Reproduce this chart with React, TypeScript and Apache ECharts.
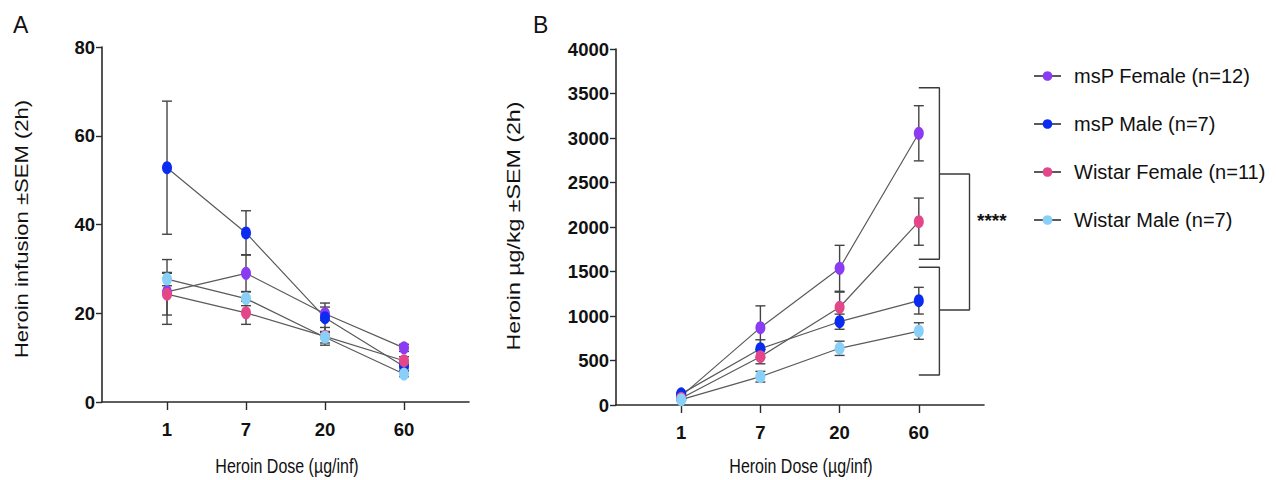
import React, { useEffect, useRef } from "react";
import * as echarts from "echarts";

// ---------- data ----------
const doseLabels = ["1", "7", "20", "60"];
const doseIdx = [1, 2, 3, 4];
const seriesNames = [
  "msP Female (n=12)",
  "msP Male (n=7)",
  "Wistar Female (n=11)",
  "Wistar Male (n=7)",
];
const seriesColors = ["#8b3cf2", "#0a2cf0", "#e4468a", "#88d0f7"];

// Panel A: Heroin infusions (2h)
const infMspFemale = [24.8, 29.0, 19.9, 12.2];
const infMspFemaleSem = [7.3, 4.2, 1.5, 0.8];
const infMspMale = [52.8, 38.1, 19.0, 8.0];
const infMspMaleSem = [15.0, 5.0, 3.3, 0.9];
const infWistarFemale = [24.3, 20.1, 14.8, 9.3];
const infWistarFemaleSem = [4.7, 2.6, 2.0, 0.9];
const infWistarMale = [27.7, 23.3, 14.6, 6.3];
const infWistarMaleSem = [1.5, 1.6, 1.3, 0.6];

// Panel B: Heroin µg/kg (2h)
const mgMspFemale = [100, 869, 1536, 3053];
const mgMspFemaleSem = [20, 245, 258, 310];
const mgMspMale = [125, 633, 936, 1172];
const mgMspMaleSem = [15, 100, 85, 150];
const mgWistarFemale = [75, 543, 1098, 2060];
const mgWistarFemaleSem = [15, 80, 170, 265];
const mgWistarMale = [60, 318, 637, 831];
const mgWistarMaleSem = [10, 60, 80, 93];

// significance brackets (panel B, data coordinates)
const bracketFemales = [[4.0, 3565], [4.26, 3565], [4.26, 1637], [4.0, 1637]];
const bracketMales = [[4.0, 1547], [4.26, 1547], [4.26, 337], [4.0, 337]];
const bracketOuter = [[4.26, 2596], [4.64, 2596], [4.64, 1067], [4.26, 1067]];
const sigLabel = "****";

const yTicksA = [0, 20, 40, 60, 80];
const yTicksB = [0, 500, 1000, 1500, 2000, 2500, 3000, 3500, 4000];

const panelA = [
  [infMspFemale, infMspFemaleSem],
  [infMspMale, infMspMaleSem],
  [infWistarFemale, infWistarFemaleSem],
  [infWistarMale, infWistarMaleSem],
];
const panelB = [
  [mgMspFemale, mgMspFemaleSem],
  [mgMspMale, mgMspMaleSem],
  [mgWistarFemale, mgWistarFemaleSem],
  [mgWistarMale, mgWistarMaleSem],
];

// ---------- styles ----------
const AXIS_COLOR = "#2a2a2a";
const LINE_COLOR = "#5a5a5a";
const ERR_COLOR = "#444";
const SANS = '"Liberation Sans", Arial, sans-serif';

function errorRender(params: any, api: any) {
  const x = api.value(0);
  const y = api.value(1);
  const e = api.value(2);
  const top = api.coord([x, y + e]);
  const bot = api.coord([x, y - e]);
  const half = 5;
  const style = { stroke: ERR_COLOR, lineWidth: 1.4 };
  return {
    type: "group",
    children: [
      { type: "line", shape: { x1: top[0], y1: top[1], x2: bot[0], y2: bot[1] }, style },
      { type: "line", shape: { x1: top[0] - half, y1: top[1], x2: top[0] + half, y2: top[1] }, style },
      { type: "line", shape: { x1: bot[0] - half, y1: bot[1], x2: bot[0] + half, y2: bot[1] }, style },
    ],
  };
}

function buildPanel(panel: number[][][], axisIndex: number) {
  const out: any[] = [];
  panel.forEach(([vals, sems], i) => {
    out.push({
      type: "custom",
      name: seriesNames[i] + " err" + axisIndex,
      xAxisIndex: axisIndex,
      yAxisIndex: axisIndex,
      renderItem: errorRender,
      data: vals.map((v, k) => [doseIdx[k], v, sems[k]]),
      z: 2,
      silent: true,
    });
  });
  panel.forEach(([vals], i) => {
    out.push({
      type: "line",
      name: seriesNames[i],
      xAxisIndex: axisIndex,
      yAxisIndex: axisIndex,
      data: vals.map((v, k) => [doseIdx[k], v]),
      symbol: "circle",
      symbolSize: [10, 13],
      lineStyle: { color: LINE_COLOR, width: 1.2 },
      itemStyle: { color: seriesColors[i] },
      z: 3,
    });
  });
  return out;
}

function bracket(data: number[][]) {
  return {
    type: "line",
    xAxisIndex: 1,
    yAxisIndex: 1,
    data,
    symbol: "none",
    silent: true,
    lineStyle: { color: "#3a3a3a", width: 1.4 },
    z: 1,
  };
}

function xAxis(gridIndex: number) {
  return {
    type: "value",
    gridIndex,
    min: 0.177,
    max: 4.823,
    splitLine: { show: false },
    axisLine: { show: true, lineStyle: { color: AXIS_COLOR, width: 1.6 } },
    axisTick: { show: true, length: 8, customValues: doseIdx, lineStyle: { color: AXIS_COLOR, width: 1.4 } },
    axisLabel: {
      customValues: doseIdx,
      formatter: (v: number) => doseLabels[Math.round(v) - 1] ?? "",
      fontFamily: SANS,
      fontWeight: "bold",
      fontSize: 18.5,
      color: "#111",
      margin: 18,
    },
  };
}

function yAxis(gridIndex: number, ticks: number[]) {
  return {
    type: "value",
    gridIndex,
    min: ticks[0],
    max: ticks[ticks.length - 1],
    interval: ticks[1] - ticks[0],
    splitLine: { show: false },
    axisLine: { show: true, lineStyle: { color: AXIS_COLOR, width: 1.6 } },
    axisTick: { show: true, length: 6, lineStyle: { color: AXIS_COLOR, width: 1.4 } },
    axisLabel: {
      formatter: (v: number) => String(v),
      fontFamily: SANS,
      fontWeight: "bold",
      fontSize: 18.5,
      color: "#111",
      margin: 7,
    },
  };
}

export default function App() {
  const ref = useRef<HTMLDivElement>(null);
  useEffect(() => {
    if (!ref.current) return;
    const chart = echarts.init(ref.current, null, { renderer: "svg" });
    const option: any = {
      animation: false,
      backgroundColor: "#ffffff",
      grid: [
        { left: 102, top: 47, width: 367, height: 355 },
        { left: 616, top: 49, width: 368, height: 356 },
      ],
      xAxis: [xAxis(0), xAxis(1)],
      yAxis: [yAxis(0, yTicksA), yAxis(1, yTicksB)],
      legend: {
        data: seriesNames,
        orient: "vertical",
        left: 1033,
        top: 64,
        padding: 0,
        itemWidth: 27,
        itemHeight: 12,
        itemGap: 24,
        textStyle: {
          fontFamily: SANS,
          fontSize: 20,
          lineHeight: 24,
          color: "#111",
          padding: [0, 0, 0, 8],
        },
      },
      series: [
        ...buildPanel(panelA, 0),
        ...buildPanel(panelB, 1),
        bracket(bracketFemales),
        bracket(bracketMales),
        bracket(bracketOuter),
      ],
      graphic: [
        { type: "text", x: 13, y: 13, style: { text: "A", font: `23px ${SANS}`, fill: "#111" } },
        { type: "text", x: 533, y: 13, style: { text: "B", font: `23px ${SANS}`, fill: "#111" } },
        {
          type: "text", x: 21, y: 229, rotation: Math.PI / 2, scaleX: 1.16,
          style: { text: "Heroin infusion ±SEM (2h)", font: `19px ${SANS}`, fill: "#111", align: "center", verticalAlign: "middle" },
        },
        {
          type: "text", x: 513, y: 226, rotation: Math.PI / 2, scaleX: 1.22,
          style: { text: "Heroin µg/kg ±SEM (2h)", font: `19px ${SANS}`, fill: "#111", align: "center", verticalAlign: "middle" },
        },
        {
          type: "text", x: 287, y: 466, scaleY: 1.27,
          style: { text: "Heroin Dose (µg/inf)", font: `16px ${SANS}`, fill: "#111", align: "center", verticalAlign: "middle" },
        },
        {
          type: "text", x: 801, y: 466, scaleY: 1.27,
          style: { text: "Heroin Dose (µg/inf)", font: `16px ${SANS}`, fill: "#111", align: "center", verticalAlign: "middle" },
        },
        {
          type: "text", x: 977, y: 220,
          style: { text: sigLabel, font: `bold 19px ${SANS}`, fill: "#111", align: "left", verticalAlign: "middle" },
        },
      ],
    };
    chart.setOption(option);
    return () => chart.dispose();
  }, []);
  return (
    <div
      ref={ref}
      style={{ position: "absolute", left: 0, top: 0, width: 1276, height: 480 }}
    />
  );
}
